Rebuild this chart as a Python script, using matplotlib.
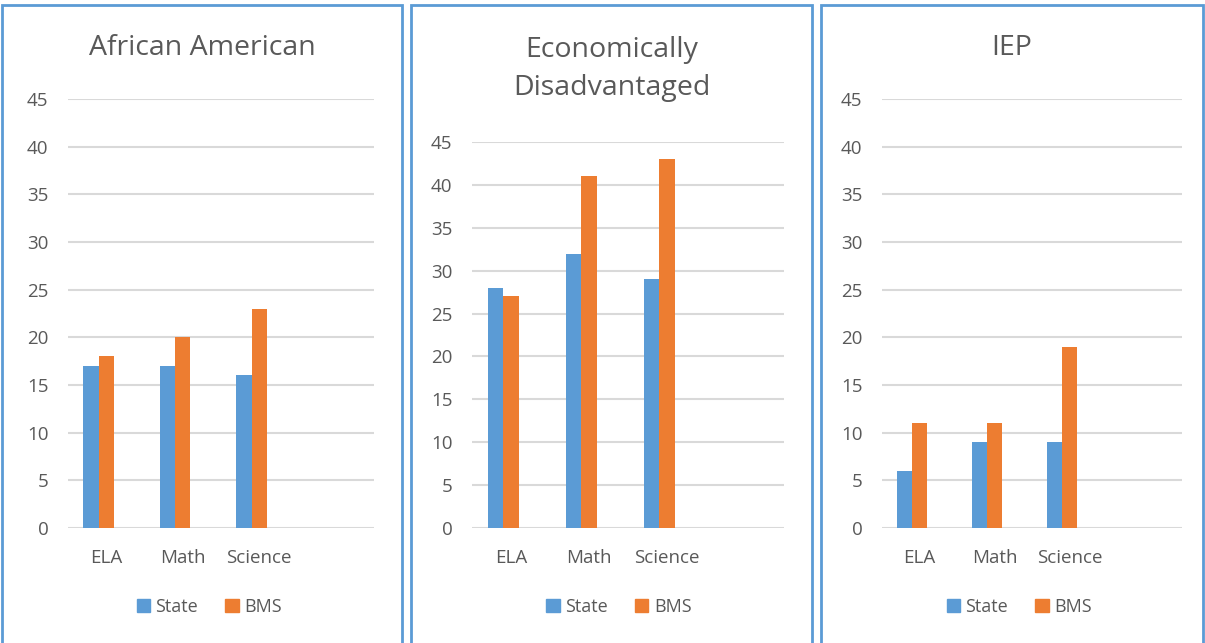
import numpy as np
import matplotlib
matplotlib.use("Agg")
from matplotlib import pyplot as plt
from matplotlib.patches import Rectangle, Patch

# data
subjects = ["ELA", "Math", "Science", ""]
titles = ["African American", "Economically\nDisadvantaged", "IEP"]
state_vals = [[17, 17, 16], [28, 32, 29], [6, 9, 9]]
bms_vals = [[18, 20, 23], [27, 41, 43], [11, 11, 19]]
yticks = [0, 5, 10, 15, 20, 25, 30, 35, 40, 45]

BLUE = "#5B9BD5"
ORANGE = "#ED7D31"
GRID = "#D9D9D9"
TXT = "#595959"

plt.rcParams["font.family"] = ["Open Sans", "DejaVu Sans"]

W, H = 1205, 643
fig = plt.figure(figsize=(W / 100, H / 100), dpi=100)

# panel frames (pixels): left, right
frames = [(2, 402), (411, 812), (821, 1203)]
# plot areas (pixels): left, right, top, bottom
areas = [(68, 374, 99, 528), (472, 784, 142, 528), (882, 1182, 99, 528)]
title_y = [48, 69, 48]

for i in range(3):
    fl, fr = frames[i]
    fig.patches.append(Rectangle((fl / W, -0.02), (fr - fl) / W, 1 - 5 / H + 0.02,
                                 transform=fig.transFigure, fill=False,
                                 edgecolor=BLUE, linewidth=2))
    l, r, t, b = areas[i]
    ax = fig.add_axes([l / W, 1 - b / H, (r - l) / W, (b - t) / H])
    x = np.arange(len(subjects[:3]))
    bw = 0.2
    ax.bar(x - bw, state_vals[i], width=bw, color=BLUE, zorder=3)
    ax.bar(x, bms_vals[i], width=bw, color=ORANGE, zorder=3)
    ax.set_xlim(-0.5, 3.5)
    ax.set_ylim(0, 45)
    ax.set_yticks(yticks)
    ax.set_xticks(np.arange(4))
    ax.set_xticklabels(subjects)
    ax.grid(axis="y", color=GRID, linewidth=1.5, zorder=0)
    for s in ax.spines.values():
        s.set_visible(False)
    ax.tick_params(axis="both", length=0, labelsize=13.5, labelcolor=TXT)
    ax.tick_params(axis="y", pad=14)
    ax.tick_params(axis="x", pad=15)
    ax.set_facecolor("none")

    cx = (fl + fr) / 2 / W
    fig.text(cx, 1 - title_y[i] / H, titles[i], ha="center", va="center",
             fontsize=20.5, color=TXT, linespacing=1.45)
    handles = [Patch(color=BLUE, label="State"), Patch(color=ORANGE, label="BMS")]
    fig.legend(handles=handles, loc="center", ncol=2,
               bbox_to_anchor=((fl + fr) / 2 / W + 0.006, 1 - 607 / H),
               frameon=False, fontsize=13, labelcolor=TXT,
               handlelength=0.75, handleheight=0.75, handletextpad=0.3,
               columnspacing=1.5)

fig.savefig("out.png", dpi=100)
